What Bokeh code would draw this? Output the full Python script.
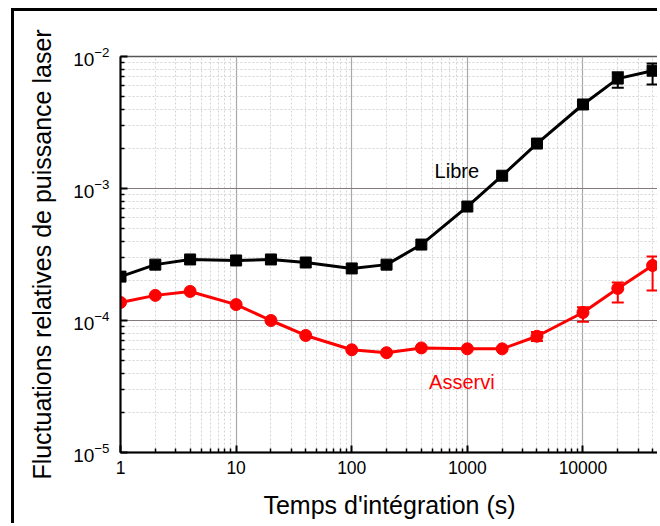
from bokeh.plotting import figure
from bokeh.models import (Range1d, FixedTicker, LogTickFormatter, BasicTickFormatter,
                          ColumnDataSource, Whisker, TeeHead, Label)
from bokeh.embed import file_html
from bokeh.resources import INLINE

# ---- data ----
t_int = [1, 2, 4, 10, 20, 40, 100, 200, 400, 1000, 2000, 4000, 10000, 20000, 40000]
libre = [2.15e-4, 2.65e-4, 2.9e-4, 2.85e-4, 2.9e-4, 2.75e-4, 2.48e-4, 2.65e-4, 3.76e-4,
         7.3e-4, 1.25e-3, 2.19e-3, 4.33e-3, 6.8e-3, 7.8e-3]
libre_lo = [None] * 12 + [4.1e-3, 5.8e-3, 6.14e-3]
libre_hi = [None] * 12 + [4.55e-3, 7.6e-3, 8.85e-3]
asservi = [1.37e-4, 1.55e-4, 1.66e-4, 1.32e-4, 1.0e-4, 7.7e-5, 6.0e-5, 5.7e-5, 6.2e-5,
           6.1e-5, 6.1e-5, 7.6e-5, 1.15e-4, 1.75e-4, 2.61e-4]
asservi_lo = [None] * 11 + [7.0e-5, 9.8e-5, 1.37e-4, 1.69e-4]
asservi_hi = [None] * 11 + [8.2e-5, 1.26e-4, 1.94e-4, 3.05e-4]

x_major = [1, 10, 100, 1000, 10000]
y_major = [1e-5, 1e-4, 1e-3, 1e-2]
x_label = "Temps d'intégration (s)"
y_label = "Fluctuations relatives de puissance laser"
libre_name, libre_pos = "Libre", (811, 1.35e-3)
asservi_name, asservi_pos = "Asservi", (896, 3.4e-5)

FONT = "Liberation Sans"

p = figure(width=646, height=515, x_axis_type="log", y_axis_type="log",
           x_range=Range1d(1, 45000), y_range=Range1d(1e-5, 1e-2),
           output_backend="svg", toolbar_location=None,
           min_border_left=106, min_border_right=2, min_border_top=45, min_border_bottom=74)
p.styles = {"margin-left": "11px", "margin-top": "8px",
            "border-left": "3px solid black", "border-top": "3px solid black"}

x_minor = [d * k for d in x_major for k in range(2, 10)]
y_minor = [d * k for d in y_major[:-1] for k in range(2, 10)]
p.xaxis.ticker = FixedTicker(ticks=x_major, minor_ticks=x_minor)
p.yaxis.ticker = FixedTicker(ticks=y_major, minor_ticks=y_minor)
p.xgrid.ticker = FixedTicker(ticks=x_major, minor_ticks=x_minor)
p.ygrid.ticker = FixedTicker(ticks=y_major, minor_ticks=y_minor)
p.xaxis.formatter = BasicTickFormatter(use_scientific=False)
p.yaxis.formatter = LogTickFormatter()

for ax in (p.xaxis[0], p.yaxis[0]):
    ax.major_tick_in = 7
    ax.major_tick_out = 0
    ax.minor_tick_in = 4
    ax.minor_tick_out = 0
    ax.axis_line_width = 2
    ax.major_tick_line_width = 2
    ax.minor_tick_line_width = 1.5
    ax.major_label_text_font = FONT
    ax.major_label_text_font_size = "17.5px"
    ax.major_label_text_color = "black"
    ax.axis_label_text_font = FONT
    ax.axis_label_text_font_size = "25px"
    ax.axis_label_text_font_style = "normal"
    ax.axis_label_text_color = "black"

p.yaxis.major_label_text_font_size = "19px"
p.xaxis.axis_label = x_label
p.yaxis.axis_label = y_label
p.xaxis.major_label_standoff = 8
p.xaxis.axis_label_standoff = 14
p.yaxis.major_label_standoff = 11
p.yaxis.axis_label_standoff = 14

p.outline_line_color = "#555555"
p.outline_line_width = 1.5

p.xgrid.grid_line_color = "#a8a8a8"
p.xgrid.grid_line_width = 1.2
p.ygrid.grid_line_color = "#857880"
p.ygrid.grid_line_width = 1.2
for g in (p.xgrid[0], p.ygrid[0]):
    g.minor_grid_line_color = "#d4d4d4"
    g.minor_grid_line_dash = "2 2"
    g.minor_grid_line_width = 1

# series
p.line(t_int, libre, line_color="black", line_width=3)
p.scatter(t_int, libre, marker="square", size=11, fill_color="black", line_color="black")
p.line(t_int, asservi, line_color="#ff0000", line_width=3)
p.scatter(t_int, asservi, marker="circle", size=12, fill_color="#ff0000", line_color="#ff0000")

def add_err(xs, lo, hi, color):
    idx = [i for i in range(len(xs)) if lo[i] is not None]
    src = ColumnDataSource(dict(base=[xs[i] for i in idx], lower=[lo[i] for i in idx],
                                upper=[hi[i] for i in idx]))
    w = Whisker(source=src, base="base", lower="lower", upper="upper", dimension="height",
                line_color=color, line_width=2,
                upper_head=TeeHead(size=12, line_color=color, line_width=2),
                lower_head=TeeHead(size=12, line_color=color, line_width=2))
    p.add_layout(w)

add_err(t_int, libre_lo, libre_hi, "black")
add_err(t_int, asservi_lo, asservi_hi, "#ff0000")

p.add_layout(Label(x=libre_pos[0], y=libre_pos[1], text=libre_name, text_font=FONT,
                   text_font_size="20px", text_color="black", text_align="center",
                   text_baseline="middle"))
p.add_layout(Label(x=asservi_pos[0], y=asservi_pos[1], text=asservi_name, text_font=FONT,
                   text_font_size="20px", text_color="#ff0000", text_align="center",
                   text_baseline="middle"))

open("out.html", "w").write(file_html(p, INLINE))
